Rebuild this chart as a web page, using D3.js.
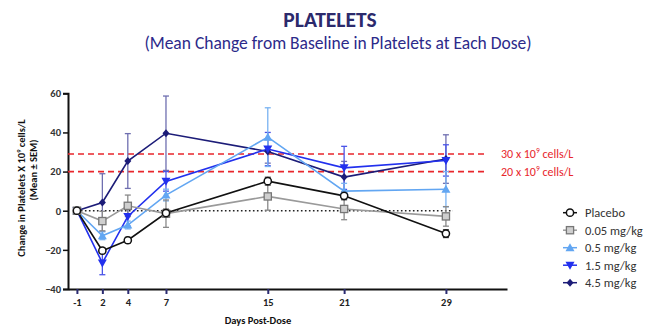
<!DOCTYPE html>
<html><head><meta charset="utf-8">
<script src="https://cdn.jsdelivr.net/npm/d3@7"></script>
<style>body{margin:0;background:#fff}svg{display:block}text{font-family:Carlito,Lato,"Open Sans",sans-serif}</style>
</head><body><svg id="c" width="653" height="331"></svg>
<script>
const dayPos = [0, 2, 4, 7, 15, 21, 29];
const dayLabels = ["-1", "2", "4", "7", "15", "21", "29"];
const yTicks = [60, 40, 20, 0, -20, -40];
const seriesNames = ["Placebo", "0.05 mg/kg", "0.5 mg/kg", "1.5 mg/kg", "4.5 mg/kg"];
const placebo = [0, -20.4, -15.1, -1.2, 15.1, 7.6, -11.7];
const dose005 = [0, -5.3, 2.5, -1.5, 7.3, 0.9, -2.9];
const dose05 = [0, -12.8, -7.3, 8.0, 37.6, 10.0, 11.0];
const dose15 = [0, -26.7, -2.9, 15.0, 31.5, 21.9, 25.7];
const dose45 = [0, 4.2, 25.4, 39.6, 30.3, 17.2, 26.4];
const semPlacebo = [0, 1.5, 1.5, 2, 2, 2, 2];
const sem005 = [0, 5, 5.5, 7, 7, 5.5, 5];
const sem05 = [0, 2, 2, 3, 15, 4, 9];
const sem15 = [0, 6, 5, 5, 8.5, 11, 8];
const sem45 = [0, 14.7, 14, 19, 6, 8, 12.4];
const thresholds = [29, 20];
const thresholdLabels = ["30 x 10", "20 x 10"];

const svg = d3.select("#c");
const x = d3.scaleLinear().domain([-0.7, 33.8]).range([68, 507]);
const y = d3.scaleLinear().domain([-40, 60]).range([289, 93.3]);

// titles
svg.append("text").attr("x", 330).attr("y", 27).attr("text-anchor", "middle")
  .attr("font-size", 21.5).attr("font-weight", "bold").attr("fill", "#2c2a6c").text("PLATELETS");
svg.append("text").attr("x", 338).attr("y", 49).attr("text-anchor", "middle")
  .attr("font-size", 17.5).attr("fill", "#2c2a8a").text("(Mean Change from Baseline in Platelets at Each Dose)");

// y axis
const yAxis = svg.append("g").attr("transform", "translate(68,0)")
  .call(d3.axisLeft(y).tickValues(yTicks).tickSize(5).tickPadding(2));
yAxis.select(".domain").attr("stroke", "#111").attr("stroke-width", 2);
yAxis.selectAll(".tick line").attr("stroke", "#111").attr("stroke-width", 1.5);
yAxis.selectAll("text").attr("font-size", 10.5).attr("font-weight", "bold").attr("fill", "#333").attr("font-family", "Carlito,Lato,sans-serif");

// x axis
const xAxis = svg.append("g").attr("transform", "translate(0,289)")
  .call(d3.axisBottom(x).tickValues(dayPos).tickFormat((d, i) => dayLabels[i]).tickSize(5).tickSizeOuter(0).tickPadding(5));
xAxis.select(".domain").attr("stroke", "#111").attr("stroke-width", 2.2);
xAxis.selectAll(".tick line").attr("stroke", "#2a2a70").attr("stroke-width", 2);
xAxis.selectAll("text").attr("font-size", 10.5).attr("font-weight", "bold").attr("fill", "#222").attr("font-family", "Carlito,Lato,sans-serif");

svg.append("text").attr("x", 258).attr("y", 324).attr("text-anchor", "middle")
  .attr("font-size", 10.5).attr("font-weight", "bold").attr("fill", "#111").text("Days Post-Dose");

// y title
svg.append("text").attr("transform", "translate(25,188) rotate(-90)").attr("text-anchor", "middle")
  .attr("font-size", 10.5).attr("font-weight", "bold").attr("fill", "#111")
  .call(t => { t.append("tspan").text("Change in Platelets X 10"); t.append("tspan").attr("font-size", 6.5).attr("dy", -4).text("9"); t.append("tspan").attr("dy", 4).text(" cells/L"); });
svg.append("text").attr("transform", "translate(37,170) rotate(-90)").attr("text-anchor", "middle")
  .attr("font-size", 10.5).attr("font-weight", "bold").attr("fill", "#111").text("(Mean \u00b1 SEM)");

// threshold lines
thresholds.forEach((t, i) => {
  svg.append("line").attr("x1", 68).attr("x2", 487).attr("y1", y(t)).attr("y2", y(t))
    .attr("stroke", "#e8262c").attr("stroke-width", 1.6).attr("stroke-dasharray", "6,4");
  svg.append("text").attr("x", 501).attr("y", y(t) + 4).attr("font-size", 12).attr("fill", "#e8262c")
    .call(tx => { tx.append("tspan").text(thresholdLabels[i]); tx.append("tspan").attr("font-size", 7.5).attr("dy", -4.5).text("9"); tx.append("tspan").attr("dy", 4.5).text(" cells/L"); });
});

// zero dotted line
svg.append("line").attr("x1", x(0)).attr("x2", 453).attr("y1", y(0)).attr("y2", y(0))
  .attr("stroke", "#222").attr("stroke-width", 1.6).attr("stroke-dasharray", "1.6,2.4");

const series = [
  { name: seriesNames[4], vals: dose45, sem: sem45, color: "#1c1c78", err: "#6f6fb0", marker: "diamond", fill: "#1c1c78" },
  { name: seriesNames[3], vals: dose15, sem: sem15, color: "#2230ee", err: "#4b55e8", marker: "tri-down", fill: "#2230ee" },
  { name: seriesNames[2], vals: dose05, sem: sem05, color: "#62a6f2", err: "#7ab3f2", marker: "tri-up", fill: "#62a6f2" },
  { name: seriesNames[1], vals: dose005, sem: sem005, color: "#9a9a9a", err: "#8a8a8a", marker: "square", fill: "#cfcfcf" },
  { name: seriesNames[0], vals: placebo, sem: semPlacebo, color: "#111", err: "#444", marker: "circle", fill: "#fff" }
];

function drawMarker(g, type, cx, cy, s) {
  if (type === "circle") g.append("circle").attr("cx", cx).attr("cy", cy).attr("r", 3.6).attr("fill", s.fill).attr("stroke", s.color).attr("stroke-width", 1.5);
  else if (type === "square") g.append("rect").attr("x", cx - 3.6).attr("y", cy - 3.6).attr("width", 7.2).attr("height", 7.2).attr("fill", s.fill).attr("stroke", "#777").attr("stroke-width", 1.3);
  else if (type === "tri-up") g.append("path").attr("d", `M${cx},${cy - 4.5}L${cx + 4.5},${cy + 3.5}L${cx - 4.5},${cy + 3.5}Z`).attr("fill", s.fill);
  else if (type === "tri-down") g.append("path").attr("d", `M${cx},${cy + 4.5}L${cx + 4.5},${cy - 3.5}L${cx - 4.5},${cy - 3.5}Z`).attr("fill", s.fill);
  else if (type === "diamond") g.append("path").attr("d", `M${cx},${cy - 4}L${cx + 3.5},${cy}L${cx},${cy + 4}L${cx - 3.5},${cy}Z`).attr("fill", s.fill);
}

const plot = svg.append("g");
// error bars
series.forEach(s => {
  s.vals.forEach((v, i) => {
    if (!s.sem[i]) return;
    const cx = x(dayPos[i]);
    const g = plot.append("g").attr("stroke", s.err).attr("stroke-width", 1.3);
    g.append("line").attr("x1", cx).attr("x2", cx).attr("y1", y(v + s.sem[i])).attr("y2", y(v - s.sem[i]));
    [v + s.sem[i], v - s.sem[i]].forEach(e => g.append("line").attr("x1", cx - 3).attr("x2", cx + 3).attr("y1", y(e)).attr("y2", y(e)));
  });
});
const line = d3.line().x((d, i) => x(dayPos[i])).y(d => y(d));
series.forEach(s => {
  plot.append("path").attr("d", line(s.vals)).attr("fill", "none").attr("stroke", s.color).attr("stroke-width", 1.6);
});
series.forEach(s => {
  s.vals.forEach((v, i) => drawMarker(plot, s.marker, x(dayPos[i]), y(v), s));
});

// legend
const legendOrder = [4, 3, 2, 1, 0];
legendOrder.forEach((si, k) => {
  const s = series[si];
  const ly = 212.7 + k * 17.5;
  const g = svg.append("g");
  g.append("line").attr("x1", 563).attr("x2", 577).attr("y1", ly).attr("y2", ly).attr("stroke", s.color).attr("stroke-width", 1.5);
  drawMarker(g, s.marker, 570, ly, s);
  svg.append("text").attr("x", 585).attr("y", ly + 4.5).attr("font-size", 12.5).attr("fill", "#333").text(s.name);
});
</script></body></html>
